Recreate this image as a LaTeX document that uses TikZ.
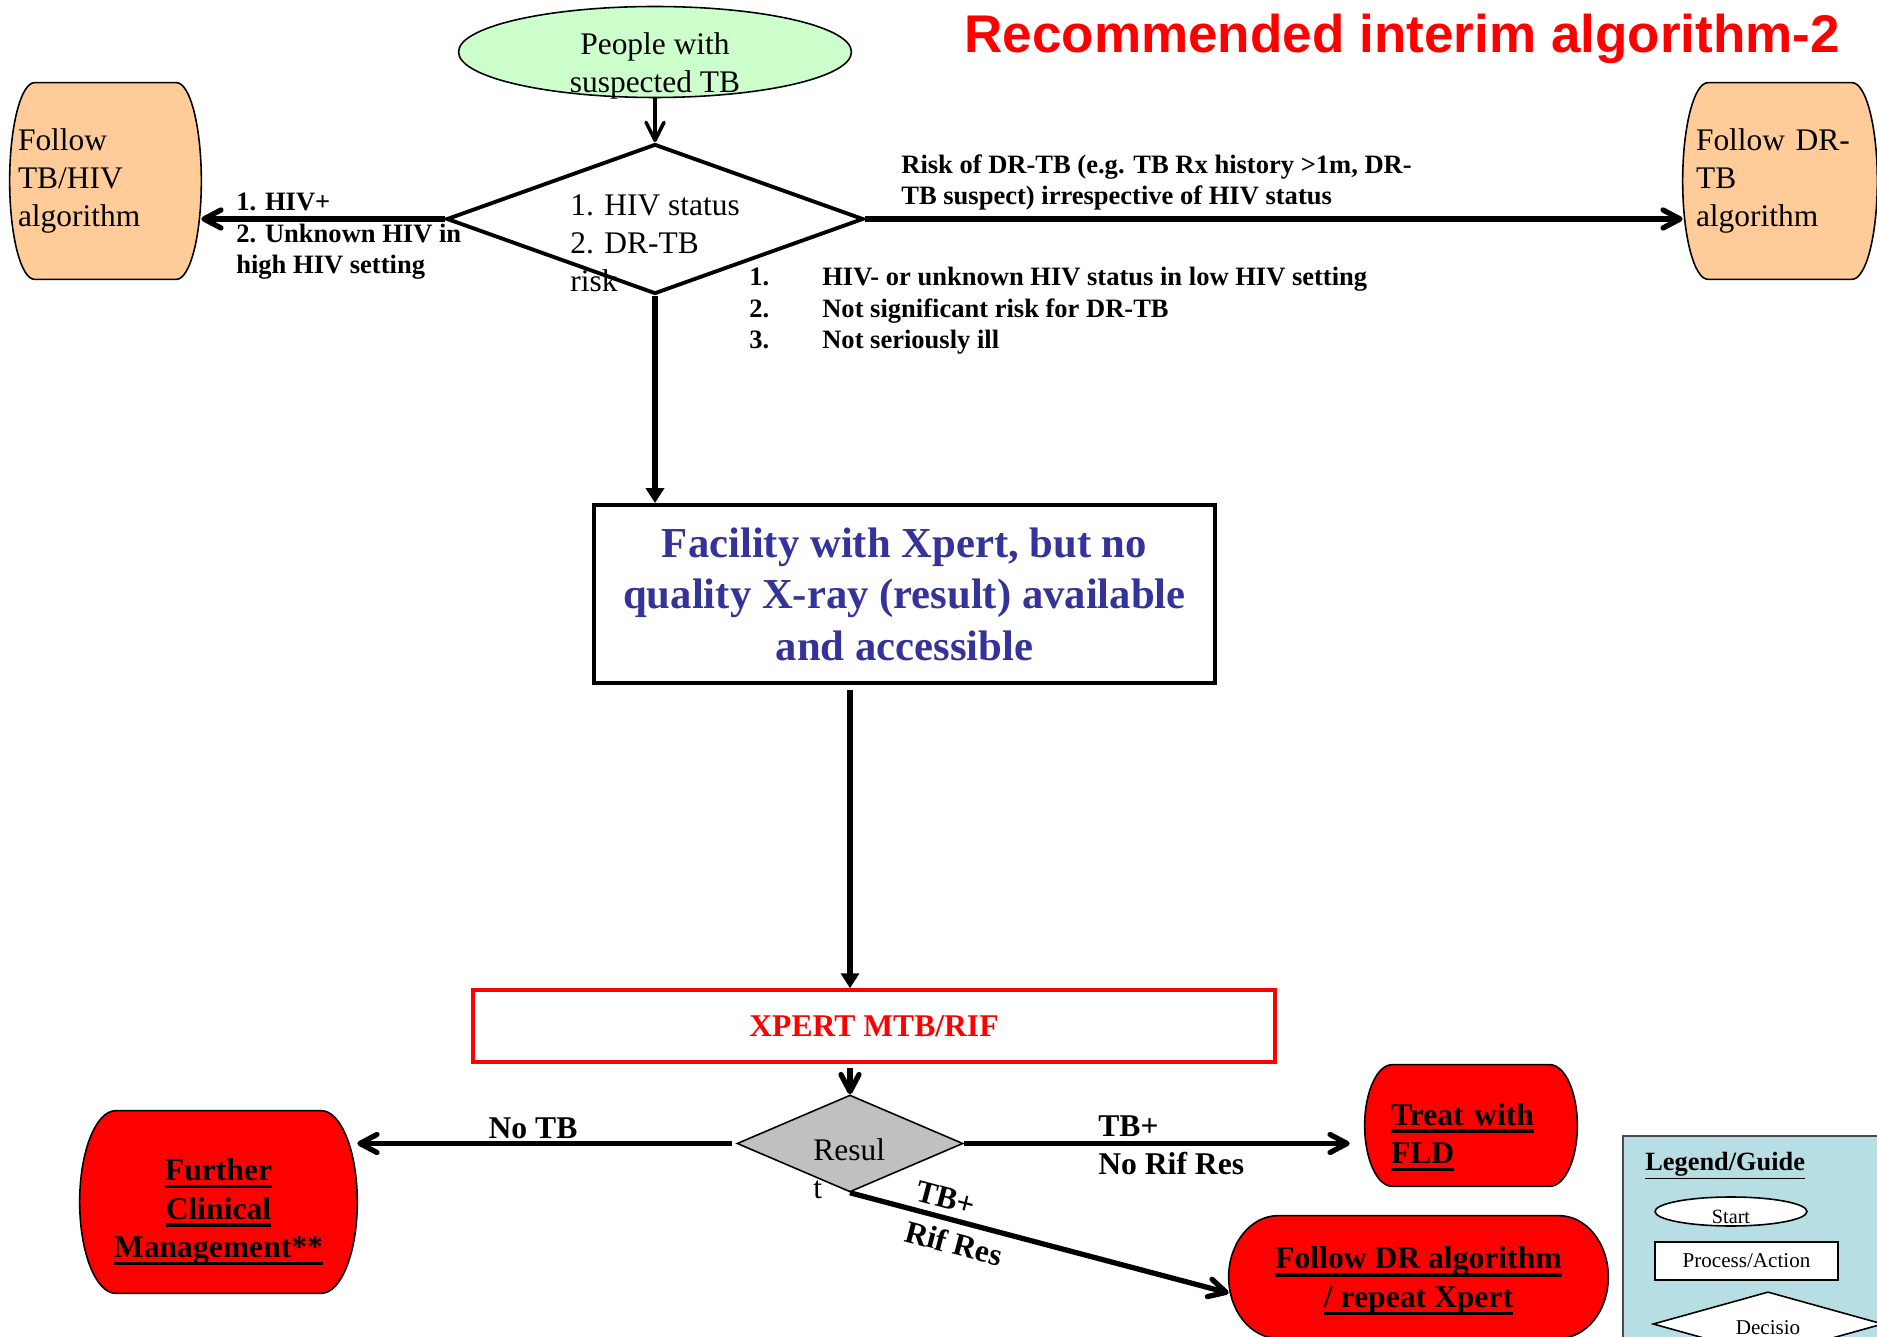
\documentclass[tikz,border=0pt]{standalone}
\usepackage{fontspec}
\setmainfont{Liberation Serif}
\newfontfamily\headfont{Liberation Sans}
\usepackage{tikz}
\usetikzlibrary{arrows.meta,backgrounds,positioning,calc,shapes.geometric}

\definecolor{mint}{HTML}{CCFFCC}
\definecolor{peach}{HTML}{FFCC99}
\definecolor{xraynavy}{HTML}{333399}
\definecolor{guideblue}{HTML}{B7DEE2}
\definecolor{resultgray}{HTML}{C0C0C0}

% thick underline of the outcome boxes
\newcommand\ulbar[1]{\hbox{\setbox0\hbox{#1}\rlap{\rule[-4.4pt]{\wd0}{2pt}}\box0}}
% barrel outline drawn behind a node
\newcommand\barrel[2]{%
  \begin{scope}[on background layer]
    \path[draw=black, line width=0.9pt, fill=#2]
      let \p1=(#1.south west), \p2=(#1.north east),
          \n1={0.13*(\x2-\x1)}, \n2={(\y2-\y1)/2} in
      (\x1+\n1,\y2) -- (\x2-\n1,\y2)
      arc[start angle=90, end angle=-90, x radius=\n1, y radius=\n2]
      -- (\x1+\n1,\y1)
      arc[start angle=270, end angle=90, x radius=\n1, y radius=\n2] -- cycle;
  \end{scope}}

\begin{document}
\begin{tikzpicture}[
    x=0.02cm, y=-0.02cm,
    basefont/.style={font=\fontsize{17.9}{21.6}\selectfont},
    labelfont/.style={font=\bfseries\fontsize{15.1}{17.9}\selectfont},
    outfont/.style={font=\bfseries\fontsize{18}{21.9}\selectfont},
    barrelbox/.style={rectangle, inner sep=0pt},
    decision/.style={diamond, draw, fill=white, inner sep=0pt},
    barb/.style={line width=3pt, -{Straight Barb[round,length=0.34cm,width=0.36cm]}},
    solidhead/.style={line width=3pt, -{Triangle[length=0.3cm,width=0.36cm]}}
  ]
  \useasboundingbox (0,0) rectangle (1877,1337);

  \node[anchor=base west, inner sep=0pt, text=red,
        font=\headfont\bfseries\fontsize{30.2}{36}\selectfont] (title) at (964,53)
        {Recommended interim algorithm-2};

  % top part
  \node[ellipse, draw, line width=0.9pt, fill=mint, inner sep=0pt,
        minimum width=7.86cm, minimum height=1.82cm, basefont] (start) at (655,52)
        {\raisebox{-12pt}[0pt][0pt]{\begin{tabular}{@{}c@{}}People with\\suspected TB\end{tabular}}};
  \node[decision, line width=2.2pt, minimum width=8.34cm, minimum height=3cm] (risk) at (655,219) {};
  \node[anchor=north west, align=left, inner sep=0pt, basefont] (risk text) at (570,194)
        {1. HIV status\\2. DR-TB\\risk};

  \node[barrelbox, minimum width=3.82cm, minimum height=3.92cm, text width=3.5cm,
        align=left, basefont] (tbhiv) at (105.5,181) {Follow\\TB/HIV\\algorithm};
  \node[barrelbox, minimum width=3.88cm, minimum height=3.92cm, text width=3.36cm,
        align=left, basefont] (drterm) at (1780,181) {Follow DR-\\TB\\algorithm};
  \barrel{tbhiv}{peach}
  \barrel{drterm}{peach}

  \node[labelfont, align=left, anchor=north west, inner sep=0pt] (hiv label) at (236,193)
        {1. HIV+\\2. Unknown HIV in\\high HIV setting};
  \node[labelfont, align=left, anchor=north west, inner sep=0pt] (dr label) at (901,154)
        {Risk of DR-TB (e.g. TB Rx history >1m, DR-\\TB suspect) irrespective of HIV status};
  \node[labelfont, align=left, anchor=north west, inner sep=0pt] (low label) at (749,267)
        {\makebox[1.46cm][l]{1.}HIV- or unknown HIV status in low HIV setting\\
         \makebox[1.46cm][l]{2.}Not significant risk for DR-TB\\
         \makebox[1.46cm][l]{3.}Not seriously ill};

  % middle
  \node[draw, line width=2.2pt, minimum width=12.42cm, minimum height=3.56cm, align=center,
        text=xraynavy, font=\bfseries\fontsize{24.3}{29.3}\selectfont] (facility) at (904.5,594)
        {Facility with Xpert, but no\\quality X-ray (result) available\\and accessible};
  \node[draw=red, line width=2pt, minimum width=16.04cm, minimum height=1.44cm,
        text=red, font=\bfseries\fontsize{18}{21}\selectfont] (xpert) at (874,1026) {XPERT MTB/RIF};

  % bottom
  \node[decision, fill=resultgray, line width=0.9pt, minimum width=4.52cm,
        minimum height=1.94cm] (result) at (850,1143.5) {};
  \node[anchor=north west, align=left, inner sep=0pt, basefont] (result text) at (813,1138) {Resul\\t};

  \node[barrelbox, minimum width=5.54cm, minimum height=3.64cm, align=center, outfont] (further)
        at (218.5,1202) {\rule{0pt}{24pt}\ulbar{Further}\\\ulbar{Clinical}\\\ulbar{Management**}};
  \node[barrelbox, minimum width=4.24cm, minimum height=2.42cm, text width=3.2cm,
        align=left, outfont] (fld) at (1471,1125.5) {\rule{0pt}{26pt}\ulbar{Treat with}\\\ulbar{FLD}};
  \node[barrelbox, minimum width=7.58cm, minimum height=2.44cm, align=center, outfont] (drfollow)
        at (1418.5,1277) {\rule{0pt}{17pt}\ulbar{Follow DR algorithm}\\\ulbar{/ repeat Xpert}};
  \barrel{further}{red}
  \barrel{fld}{red}
  \barrel{drfollow}{red}

  \node[outfont, anchor=base, inner sep=0pt] (notb) at (533,1138) {No TB};
  \node[outfont, align=left, anchor=north west, inner sep=0pt] (tbnorif) at (1098,1115) {TB+\\No Rif Res};

  % legend
  \node[draw=black!70, line width=0.9pt, fill=guideblue, anchor=north west,
        minimum width=6cm, minimum height=5cm] (legend) at (1622,1135) {};
  \node[anchor=base west, inner sep=0pt, font=\bfseries\fontsize{15}{18}\selectfont] (legend title)
        at (1645,1170) {\underline{Legend/Guide}};
  \node[ellipse, draw, line width=0.9pt, fill=white, inner sep=0pt, minimum width=3.04cm,
        minimum height=0.58cm, font=\fontsize{11.5}{13}\selectfont] (leg start) at (1731,1211.5)
        {\raisebox{-7pt}[0pt][0pt]{Start}};
  \node[draw, line width=0.9pt, fill=white, minimum width=3.66cm, minimum height=0.76cm,
        font=\fontsize{12}{14}\selectfont] (leg process) at (1746.5,1261) {Process/Action};
  \node[diamond, draw, line width=0.9pt, fill=white, inner sep=0pt, minimum width=4.6cm,
        minimum height=0.88cm, font=\fontsize{12}{14}\selectfont] (leg decision) at (1768,1324)
        {\raisebox{-6pt}[0pt][0pt]{Decisio}};

  % connectors
  \draw[line width=2pt, -{Straight Barb[round,length=0.36cm,width=0.36cm]}] (start.south) -- (risk.north);
  \draw[barb] (risk.west) -- (risk.west -| tbhiv.east);
  \draw[barb] (risk.east) -- (risk.east -| drterm.west);
  \draw[solidhead] (risk.south) -- (risk.south |- facility.north);
  \draw[solidhead] ([yshift=-0.1cm]facility.south -| result.north) -- (xpert.north -| result.north);
  \draw[barb] ([yshift=-0.08cm]xpert.south -| result.north) -- (result.north);
  \draw[barb, shorten <=0.08cm] (result.west) -- (result.west -| further.east);
  \draw[barb, shorten >=0.3cm] (result.east) -- (result.east -| fld.west);
  \draw[barb] (result.south) -- node[sloped, pos=0.29, yshift=-1pt, outfont, align=left] (tbrif)
        {TB+\\[2pt]Rif Res} ([yshift=-0.32cm]drfollow.west);
\end{tikzpicture}
\end{document}
